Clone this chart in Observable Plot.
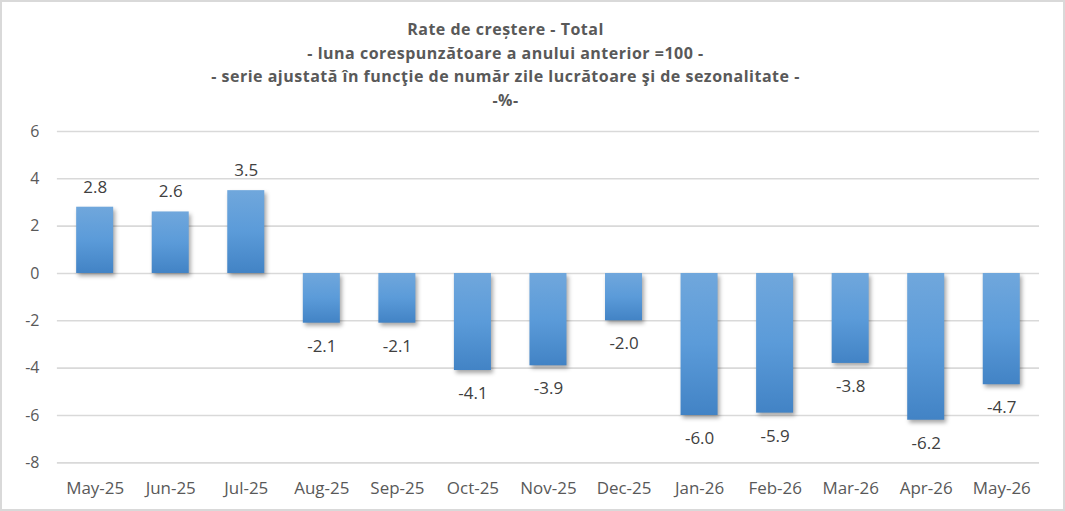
<!DOCTYPE html>
<html>
<head>
<meta charset="utf-8">
<script src="https://cdn.jsdelivr.net/npm/d3@7"></script>
<script src="https://cdn.jsdelivr.net/npm/@observablehq/plot@0.6"></script>
<style>
  body { margin: 0; background: #fff; }
  #frame {
    position: relative; width: 1065px; height: 511px; box-sizing: border-box;
    border: 2px solid #d9d9d9; background: #fff;
    font-family: "Open Sans", Lato, sans-serif;
  }
  #title {
    position: absolute; left: -27px; top: 16px; width: 100%; text-align: center;
    font-weight: bold; color: #595959; font-size: 16px; line-height: 23.5px;
    letter-spacing: 0.5px;
  }
  #chart { position: absolute; left: -2px; top: 113px; }
</style>
</head>
<body>
<div id="frame">
  <div id="title">
    <div>Rate de creștere - Total</div>
    <div>- luna corespunzătoare a anului anterior =100 -</div>
    <div>- serie ajustată în funcţie de număr zile lucrătoare şi de sezonalitate -</div>
    <div>-%-</div>
  </div>
  <div id="chart"></div>
</div>
<script>
// Monthly growth rates, same month of previous year = 100, adjusted series (%)
const months = ["May-25", "Jun-25", "Jul-25", "Aug-25", "Sep-25", "Oct-25", "Nov-25",
                "Dec-25", "Jan-26", "Feb-26", "Mar-26", "Apr-26", "May-26"];
const rates = [2.8, 2.6, 3.5, -2.1, -2.1, -4.1, -3.9, -2.0, -6.0, -5.9, -3.8, -6.2, -4.7];
const yTicks = [-8, -6, -4, -2, 0, 2, 4, 6];

const data = months.map((m, i) => ({month: m, value: rates[i]}));

const chart = Plot.plot({
  width: 1065,
  height: 396,
  marginTop: 16,
  marginBottom: 48,
  marginLeft: 57,
  marginRight: 24,
  style: {fontFamily: "'Open Sans', Lato, sans-serif", fontSize: "16px", color: "#595959", background: "transparent"},
  x: {domain: months, paddingInner: 0.51, paddingOuter: 0.255, round: false, label: null, tickSize: 0, tickPadding: 19},
  y: {domain: [-8, 6], ticks: yTicks, label: null, tickSize: 0, tickPadding: 18, tickFormat: d => d},
  marks: [
    Plot.ruleY(yTicks, {stroke: "#d9d9d9", strokeWidth: 1.6}),
    Plot.barY(data, {x: "month", y: "value", fill: "url(#barGradient)", className: "bars"}),
    Plot.text(data, {
      x: "month", y: "value", text: d => d.value.toFixed(1),
      fill: "#404040", fontSize: 17,
      filter: d => d.value >= 0, dy: -20
    }),
    Plot.text(data, {
      x: "month", y: "value", text: d => d.value.toFixed(1),
      fill: "#404040", fontSize: 17,
      filter: d => d.value < 0, dy: 23
    }),
    Plot.axisX({tickSize: 0, tickPadding: 19, fontSize: 17, label: null})
  ]
});

// Vertical gradient and soft shadow on the bars
const svg = d3.select(chart);
const defs = svg.insert("defs", ":first-child");
const grad = defs.append("linearGradient")
  .attr("id", "barGradient").attr("x1", 0).attr("y1", 0).attr("x2", 0).attr("y2", 1);
grad.append("stop").attr("offset", "0%").attr("stop-color", "#70a7dc");
grad.append("stop").attr("offset", "50%").attr("stop-color", "#5b9bd9");
grad.append("stop").attr("offset", "100%").attr("stop-color", "#4283c5");
svg.selectAll("g.bars").style("filter", "drop-shadow(2px 3px 2px rgba(0,0,0,0.35))");

document.getElementById("chart").appendChild(chart);
</script>
</body>
</html>
